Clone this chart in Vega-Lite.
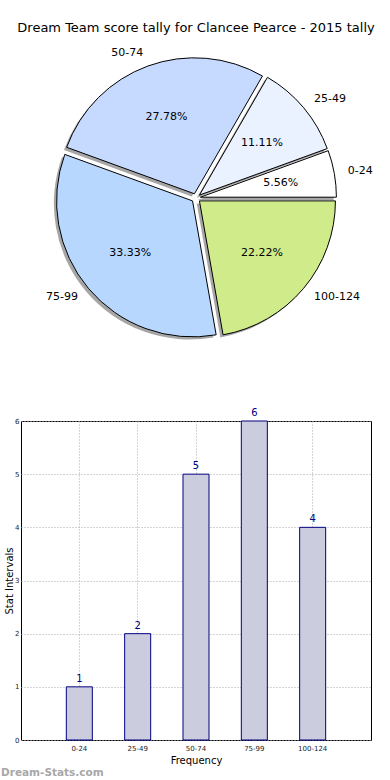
{
  "$schema": "https://vega.github.io/schema/vega-lite/v6.json",
  "padding": {"left": 0, "top": 22, "right": 0, "bottom": 0},
  "background": "white",
  "config": {"view": {"stroke": null}, "font": "DejaVu Sans"},
  "datasets": {
    "tally": [
      {"cat": "0-24", "v": 1, "i": 1, "pct": "5.56%"},
      {"cat": "25-49", "v": 2, "i": 2, "pct": "11.11%"},
      {"cat": "50-74", "v": 5, "i": 3, "pct": "27.78%"},
      {"cat": "75-99", "v": 6, "i": 4, "pct": "33.33%"},
      {"cat": "100-124", "v": 4, "i": 5, "pct": "22.22%"}
    ]
  },
  "vconcat": [
    {
      "width": 350,
      "height": 300,
      "data": {"name": "tally"},
      "title": {"text": "Dream Team score tally for Clancee Pearce - 2015 tally", "fontSize": 13, "fontWeight": "normal", "font": "DejaVu Sans", "color": "black", "anchor": "middle", "frame": "group", "offset": 12},
      "layer": [
        {
          "transform": [{"stack": "v", "groupby": [], "sort": [{"field": "i", "order": "descending"}], "as": ["t0", "t1"]}],
          "encoding": {
            "theta": {"field": "t0", "type": "quantitative", "scale": {"domain": [0, 18], "range": [1.5708, 7.854]}},
            "theta2": {"field": "t1"}
          },
          "layer": [
            {"transform": [{"filter": "datum.cat == '0-24'"}], "mark": {"type": "arc", "outerRadius": 136, "fill": "black", "fillOpacity": 0.35, "xOffset": 1.7, "yOffset": 1.9}},
            {"transform": [{"filter": "datum.cat == '0-24'"}], "mark": {"type": "arc", "outerRadius": 136, "fill": "#ffffff", "stroke": "black", "strokeWidth": 1, "xOffset": 4.4, "yOffset": -0.8}},
            {"transform": [{"filter": "datum.cat == '25-49'"}], "mark": {"type": "arc", "outerRadius": 136, "fill": "black", "fillOpacity": 0.35, "xOffset": 0.75, "yOffset": -0.3}},
            {"transform": [{"filter": "datum.cat == '25-49'"}], "mark": {"type": "arc", "outerRadius": 136, "fill": "#eaf2ff", "stroke": "black", "strokeWidth": 1, "xOffset": 3.45, "yOffset": -2.9}},
            {"transform": [{"filter": "datum.cat == '50-74'"}], "mark": {"type": "arc", "outerRadius": 136, "fill": "black", "fillOpacity": 0.35, "xOffset": -4.25, "yOffset": -1.6}},
            {"transform": [{"filter": "datum.cat == '50-74'"}], "mark": {"type": "arc", "outerRadius": 136, "fill": "#c6d9ff", "stroke": "black", "strokeWidth": 1, "xOffset": -1.55, "yOffset": -4.2}},
            {"transform": [{"filter": "datum.cat == '75-99'"}], "mark": {"type": "arc", "outerRadius": 136, "fill": "black", "fillOpacity": 0.35, "xOffset": -6.15, "yOffset": 5.5}},
            {"transform": [{"filter": "datum.cat == '75-99'"}], "mark": {"type": "arc", "outerRadius": 136, "fill": "#b7d7ff", "stroke": "black", "strokeWidth": 1, "xOffset": -3.45, "yOffset": 2.9}},
            {"transform": [{"filter": "datum.cat == '100-124'"}], "mark": {"type": "arc", "outerRadius": 136, "fill": "black", "fillOpacity": 0.35, "xOffset": 0.75, "yOffset": 5.5}},
            {"transform": [{"filter": "datum.cat == '100-124'"}], "mark": {"type": "arc", "outerRadius": 136, "fill": "#d0eb8a", "stroke": "black", "strokeWidth": 1, "xOffset": 3.45, "yOffset": 2.9}}
          ]
        },
        {
          "mark": {"type": "text", "radius": 86, "fontSize": 11, "font": "DejaVu Sans", "color": "black", "align": "center", "baseline": "middle"},
          "encoding": {
            "theta": {"field": "v", "type": "quantitative", "stack": true},
            "order": {"field": "i", "type": "quantitative", "sort": "descending"},
            "text": {"field": "pct", "type": "nominal"}
          }
        },
        {
          "mark": {"type": "text", "radius": 154, "fontSize": 11, "font": "DejaVu Sans", "color": "black", "align": "left", "baseline": "middle"},
          "encoding": {
            "theta": {"field": "v", "type": "quantitative", "stack": true},
            "order": {"field": "i", "type": "quantitative", "sort": "descending"},
            "text": {"condition": {"test": "datum.cat == '50-74' || datum.cat == '75-99'", "value": ""}, "field": "cat", "type": "nominal"}
          }
        },
        {
          "mark": {"type": "text", "radius": 154, "fontSize": 11, "font": "DejaVu Sans", "color": "black", "align": "right", "baseline": "middle"},
          "encoding": {
            "theta": {"field": "v", "type": "quantitative", "stack": true},
            "order": {"field": "i", "type": "quantitative", "sort": "descending"},
            "text": {"condition": {"test": "datum.cat == '50-74' || datum.cat == '75-99'", "field": "cat"}, "value": ""}
          }
        }
      ]
    },
    {
      "width": 350,
      "height": 319,
      "data": {"name": "tally"},
      "view": {"stroke": "black", "strokeWidth": 1},
      "title": {"text": "Dream-Stats.com", "orient": "bottom", "anchor": "start", "frame": "group", "fontSize": 10.5, "fontWeight": "bold", "font": "DejaVu Sans", "color": "#a8a8a8", "dx": -20, "offset": 3},
      "encoding": {
        "x": {
          "field": "cat", "type": "nominal",
          "sort": ["0-24", "25-49", "50-74", "75-99", "100-124"],
          "scale": {"paddingInner": 0.554, "paddingOuter": 0.777},
          "axis": {"title": "Frequency", "titleFontSize": 10, "titleFontWeight": "normal", "titleColor": "black", "titlePadding": 4, "labelAngle": 0, "labelFontSize": 7, "labelColor": "#222", "labelPadding": 4, "ticks": false, "domain": false, "grid": true, "bandPosition": 0.5, "gridColor": "#aaaaaa", "gridDash": [1, 2], "gridWidth": 1}
        },
        "y": {
          "field": "v", "type": "quantitative",
          "scale": {"domain": [0, 6], "nice": false},
          "axis": {"title": "Stat Intervals", "titleFontSize": 10, "titleFontWeight": "normal", "titleColor": "black", "titlePadding": 0, "values": [0, 1, 2, 3, 4, 5, 6], "format": "d", "labelFontSize": 7, "labelColor": "#222", "labelPadding": 2, "ticks": false, "domain": false, "grid": true, "gridColor": "#aaaaaa", "gridDash": [1, 2], "gridWidth": 1}
        }
      },
      "layer": [
        {"mark": {"type": "bar", "fill": "#ccccdf", "stroke": "#000080", "strokeWidth": 1}},
        {"mark": {"type": "text", "color": "#000080", "fontSize": 10, "baseline": "bottom", "dy": -3, "font": "DejaVu Sans"}, "encoding": {"text": {"field": "v", "type": "quantitative"}}}
      ]
    }
  ],
  "spacing": 59
}
